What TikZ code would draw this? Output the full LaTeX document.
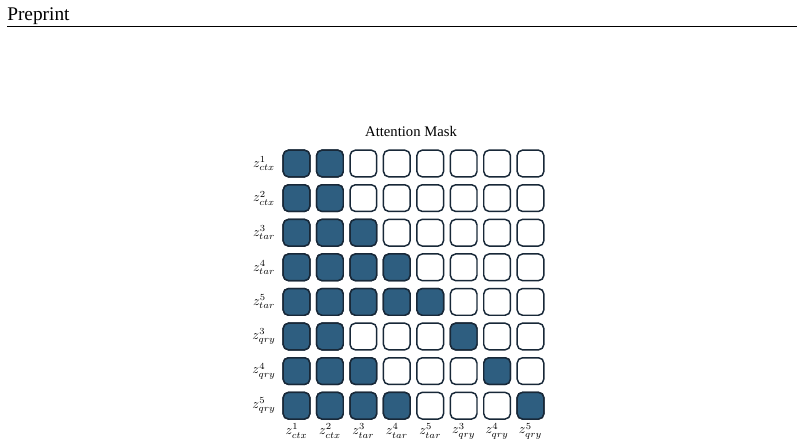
\documentclass[tikz,border=0pt]{standalone}
\usepackage{fontspec}
\setmainfont{Liberation Serif}
\definecolor{cellfill}{RGB}{46,94,128}
\definecolor{celledge}{RGB}{24,40,56}
\begin{document}
\begin{tikzpicture}[x=0.75pt,y=-0.75pt,
  cell/.style={draw=celledge,line width=1.1pt,rounded corners=4pt,minimum width=20pt,minimum height=20pt,inner sep=0pt},
  on/.style={cell,fill=cellfill},
  off/.style={cell,fill=white},
  lab/.style={inner sep=0pt,font=\normalsize}]
\useasboundingbox (0,0) rectangle (804,444);
\node[anchor=base west,inner sep=0pt,font=\fontsize{14.5pt}{16pt}\selectfont] (hdr) at (7,20) {Preprint};
\coordinate (rl) at (7,26.5);
\coordinate (rr) at (797,26.5);
\draw[line width=0.8pt] (rl) -- (rr);
\node[inner sep=0pt,font=\fontsize{11pt}{13pt}\selectfont] (title) at (411,131) {Attention Mask};
% pattern: row -> list of filled columns
\foreach \r/\lst/\lbl in {1/{1,2}/{z^{1}_{ctx}},2/{1,2}/{z^{2}_{ctx}},3/{1,2,3}/{z^{3}_{tar}},4/{1,2,3,4}/{z^{4}_{tar}},5/{1,2,3,4,5}/{z^{5}_{tar}},6/{1,2,6}/{z^{3}_{qry}},7/{1,2,3,7}/{z^{4}_{qry}},8/{1,2,3,4,8}/{z^{5}_{qry}}}{
  \pgfmathsetmacro{\yy}{163.5+34.6*(\r-1)}
  \node[lab] (rlab\r) at (264,\yy) {$\lbl$};
  \foreach \c in {1,...,8}{
    \pgfmathsetmacro{\xx}{296.5+33.43*(\c-1)}
    \node[off] (cell-\r-\c) at (\xx,\yy) {};
  }
  \foreach \c in \lst{
    \pgfmathsetmacro{\xx}{296.5+33.43*(\c-1)}
    \node[on] (cellf-\r-\c) at (\xx,\yy) {};
  }
}
\foreach \c/\lbl in {1/{z^{1}_{ctx}},2/{z^{2}_{ctx}},3/{z^{3}_{tar}},4/{z^{4}_{tar}},5/{z^{5}_{tar}},6/{z^{3}_{qry}},7/{z^{4}_{qry}},8/{z^{5}_{qry}}}{
  \pgfmathsetmacro{\xx}{296.5+33.43*(\c-1)}
  \node[lab] (clab\c) at (\xx,431) {$\lbl$};
}
\end{tikzpicture}
\end{document}
